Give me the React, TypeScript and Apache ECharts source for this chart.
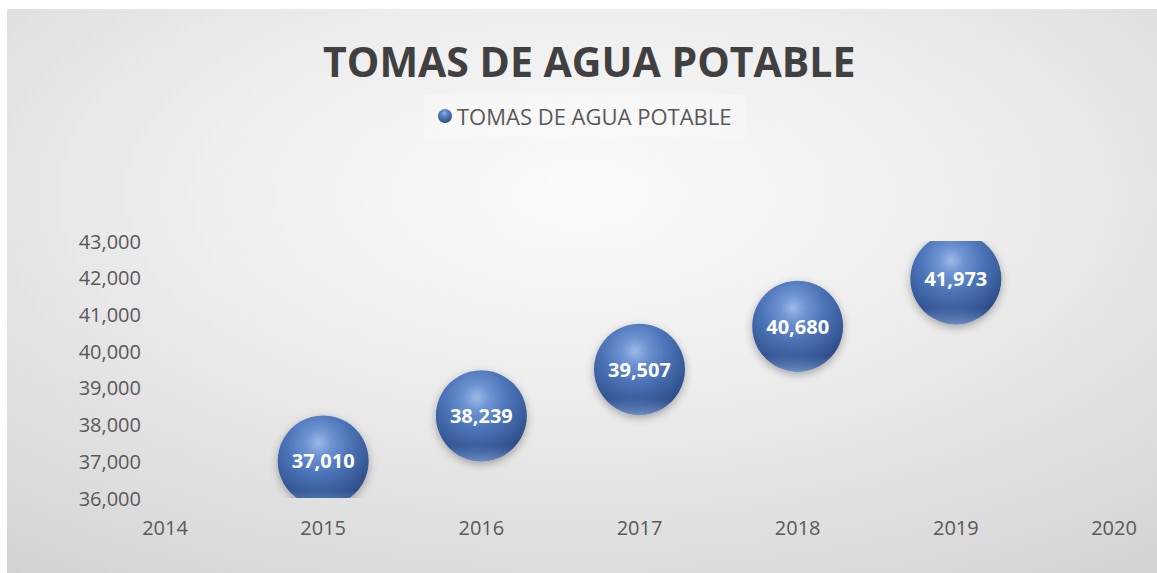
import React, { useEffect, useRef } from "react";
import * as echarts from "echarts";

const TITLE = "TOMAS DE AGUA POTABLE";
const SERIES_NAME = "TOMAS DE AGUA POTABLE";
const years = [2015, 2016, 2017, 2018, 2019];
const values = [37010, 38239, 39507, 40680, 41973];
const xMin = 2014;
const xMax = 2020;
const yMin = 36000;
const yMax = 43000;
const yStep = 1000;

const FONT = "'Open Sans', 'Noto Sans', sans-serif";

const fmt = (v: number) => v.toLocaleString("en-US");

export default function App() {
  const ref = useRef<HTMLDivElement>(null);
  useEffect(() => {
    if (!ref.current) return;
    const chart = echarts.init(ref.current, undefined, { renderer: "svg" });
    const sphere = () =>
      new echarts.graphic.RadialGradient(0.45, 0.3, 0.72, [
        { offset: 0, color: "#9cbae9" },
        { offset: 0.2, color: "#6d93d2" },
        { offset: 0.48, color: "#4c74b8" },
        { offset: 0.76, color: "#395d9c" },
        { offset: 1, color: "#27457e" },
      ]);
    const rim = () =>
      new echarts.graphic.LinearGradient(0, 0, 0, 1, [
        { offset: 0, color: "rgba(130,165,225,0)" },
        { offset: 0.82, color: "rgba(130,165,225,0)" },
        { offset: 1, color: "rgba(150,185,240,0.6)" },
      ]);
    chart.setOption({
      animation: false,
      graphic: [
        {
          type: "rect",
          z: -10,
          silent: true,
          shape: { x: 0, y: 0, width: 1150, height: 564 },
          style: {
            fill: new echarts.graphic.RadialGradient(0.5, 0.33, 1.1, [
              { offset: 0, color: "#fbfbfb" },
              { offset: 0.3, color: "#eeeeee" },
              { offset: 0.65, color: "#dadada" },
              { offset: 1, color: "#c0c0c0" },
            ]),
          },
        },
      ],
      title: {
        text: TITLE,
        left: 311,
        top: 26,
        textStyle: {
          fontFamily: FONT,
          fontWeight: "bold",
          fontSize: 41,
          color: "#404040",
        },
      },
      legend: {
        top: 86,
        left: 417,
        padding: [10, 14],
        backgroundColor: "rgba(255,255,255,0.3)",
        itemWidth: 14,
        itemHeight: 14,
        itemGap: 4,
        textStyle: { fontFamily: FONT, fontSize: 22, color: "#595959" },
        data: [{ name: SERIES_NAME, icon: "circle", itemStyle: { color: sphere() } }],
      },
      grid: { left: 158, right: 43, top: 232, bottom: 75 },
      xAxis: {
        type: "value",
        min: xMin,
        max: xMax,
        interval: 1,
        axisLine: { show: false },
        axisTick: { show: false },
        splitLine: { show: false },
        axisLabel: {
          margin: 19,
          fontFamily: FONT,
          fontSize: 20,
          color: "#595959",
          formatter: (v: number) => String(v),
        },
      },
      yAxis: {
        type: "value",
        min: yMin,
        max: yMax,
        interval: yStep,
        axisLine: { show: false },
        axisTick: { show: false },
        splitLine: { show: false },
        axisLabel: {
          margin: 24,
          fontFamily: FONT,
          fontSize: 20,
          color: "#595959",
          formatter: (v: number) => fmt(v),
        },
      },
      series: [
        {
          type: "custom",
          name: SERIES_NAME,
          clip: true,
          itemStyle: { color: "#4c74b8" },
          data: years.map((y, i) => [y, values[i]]),
          renderItem: (params: any, api: any) => {
            const p = api.coord([api.value(0), api.value(1)]);
            const r = 45.5;
            return {
              type: "group",
              children: [
                {
                  type: "circle",
                  shape: { cx: p[0], cy: p[1], r },
                  style: {
                    fill: sphere(),
                    shadowBlur: 8,
                    shadowColor: "rgba(0,0,0,0.3)",
                    shadowOffsetY: 3,
                  },
                },
                {
                  type: "circle",
                  shape: { cx: p[0], cy: p[1], r },
                  style: { fill: rim() },
                },
                {
                  type: "text",
                  style: {
                    x: p[0],
                    y: p[1],
                    text: fmt(api.value(1)),
                    fill: "#ffffff",
                    fontFamily: FONT,
                    fontWeight: "bold",
                    fontSize: 20,
                    align: "center",
                    verticalAlign: "middle",
                  },
                },
              ],
            };
          },
        },
      ],
    });
    return () => chart.dispose();
  }, []);
  return (
    <div
      ref={ref}
      style={{ position: "absolute", left: 7, top: 9, width: 1150, height: 564 }}
    />
  );
}
